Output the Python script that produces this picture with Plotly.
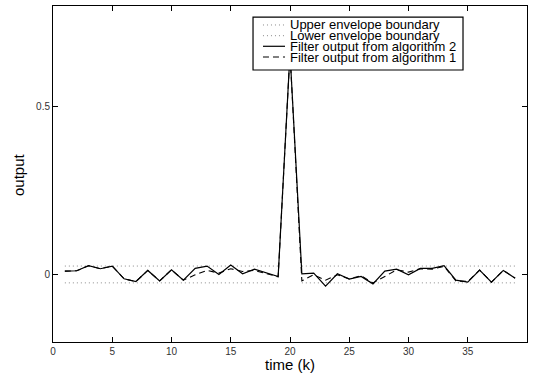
import plotly.graph_objects as go

k = list(range(1, 40))

alg2 = [0.011, 0.012, 0.027, 0.018, 0.026, -0.012, -0.020, 0.013, -0.018, 0.015,
        -0.016, 0.019, 0.026, 0.001, 0.029, 0.003, 0.017, 0.006, -0.005, 0.66,
        0.003, 0.005, -0.034, 0.003, -0.013, -0.005, -0.027, 0.011, 0.017, 0.000,
        0.019, 0.019, 0.027, -0.016, -0.022, 0.014, -0.022, 0.013, -0.010]

alg1 = [0.011, 0.012, 0.027, 0.018, 0.026, -0.012, -0.020, 0.013, -0.018, 0.015,
        -0.016, 0.000, 0.013, 0.005, 0.018, 0.010, 0.013, 0.004, -0.006, 0.66,
        -0.018, 0.000, -0.016, 0.000, -0.012, -0.003, -0.024, -0.005, 0.015, 0.008,
        0.018, 0.017, 0.025, -0.018, -0.020, 0.014, -0.022, 0.013, -0.010]

upper = [0.026] * 19 + [None] + [0.026] * 19
lower = [-0.024] * 19 + [None] + [-0.024] * 19

xticks = [0, 5, 10, 15, 20, 25, 30, 35]
yticks = [0, 0.5]
ytick_text = ["0", "0.5"]

names = ["Upper envelope boundary", "Lower envelope boundary",
         "Filter output from algorithm 2", "Filter output from algorithm 1"]
series = [upper, lower, alg2, alg1]
styles = [dict(color="#8a8a8a", width=1, dash="1px,3px"),
          dict(color="#8a8a8a", width=1, dash="1px,3px"),
          dict(color="black", width=1.2),
          dict(color="black", width=1.1, dash="6px,4px")]

FONT = "Liberation Sans, Arial, Helvetica"

fig = go.Figure()
for nm, ys, st in zip(names, series, styles):
    fig.add_trace(go.Scatter(x=k, y=ys, mode="lines", name=nm, line=st, showlegend=False))

# manual compact legend (MATLAB-style)
leg_x0, leg_x1, leg_y0, leg_y1 = 0.422, 0.865, 0.8095, 0.967
fig.add_shape(type="rect", xref="paper", yref="paper", x0=leg_x0, x1=leg_x1, y0=leg_y0, y1=leg_y1,
              line=dict(color="black", width=1.2), fillcolor="white", layer="above")
row_y = [0.9435, 0.9116, 0.8801, 0.8482]
for nm, st, ry in zip(names, styles, row_y):
    fig.add_shape(type="line", xref="paper", yref="paper", x0=0.443, x1=0.4895, y0=ry, y1=ry,
                  line=st, layer="above")
    fig.add_annotation(xref="paper", yref="paper", x=0.4958, y=ry, text=nm, showarrow=False,
                       xanchor="left", yanchor="middle",
                       font=dict(family=FONT, size=13, color="black"))

# axis titles
fig.add_annotation(xref="paper", yref="paper", x=0.5, y=-0.0655, text="time (k)", showarrow=False,
                   xanchor="center", yanchor="middle", font=dict(family=FONT, size=15, color="black"))
fig.add_annotation(xref="paper", yref="paper", x=-0.0738, y=0.497, text="output", showarrow=False,
                   textangle=-90, xanchor="center", yanchor="middle",
                   font=dict(family=FONT, size=15, color="black"))

axis_common = dict(showgrid=False, zeroline=False, showline=True, linecolor="black",
                   linewidth=1, mirror="ticks", ticks="inside", ticklen=5,
                   tickcolor="black", tickwidth=1, automargin=False,
                   tickfont=dict(family=FONT, size=10, color="#333"))

fig.update_layout(
    width=535, height=374,
    margin=dict(l=53, r=8, t=6, b=32),
    paper_bgcolor="white", plot_bgcolor="white",
    font=dict(family=FONT, color="black"),
    xaxis=dict(range=[0, 40], tickvals=xticks, **axis_common),
    yaxis=dict(range=[-0.2, 0.8], tickvals=yticks, ticktext=ytick_text, **axis_common),
    showlegend=False,
)

fig.write_html("out.html", config={"displayModeBar": False},
               post_script="document.body.style.margin='0';")
